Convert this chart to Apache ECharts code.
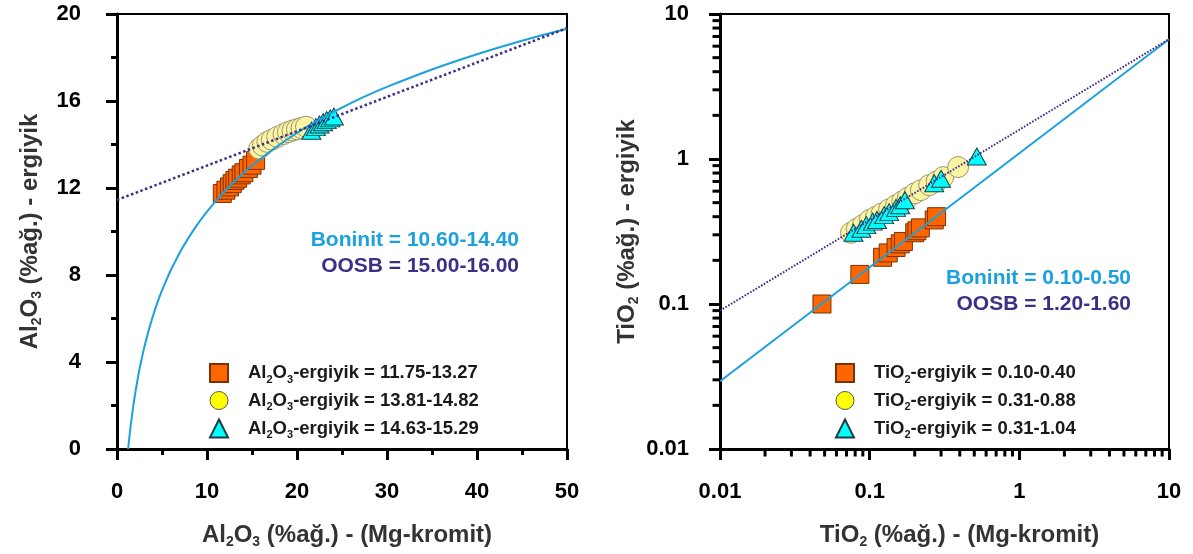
<!DOCTYPE html>
<html>
<head>
<meta charset="utf-8">
<script src="https://cdn.jsdelivr.net/npm/echarts@6/dist/echarts.min.js"></script>
<style>
  html, body { margin: 0; padding: 0; background: #fff; }
  #chart { width: 1193px; height: 554px; }
</style>
</head>
<body>
<div id="chart"></div>
<script>
// ---------- Al2O3 panel (linear axes) ----------
const alXMin = 0, alXMax = 50, alXStep = 10;
const alYMin = 0, alYMax = 20, alYStep = 4;

// points along the melt–spinel Al2O3 curve
const alCurveX = [1.24, 1.3, 1.4, 1.5, 1.6, 1.75, 1.9, 2.1, 2.3, 2.5, 2.75, 3, 3.5, 4, 4.5, 5, 5.5, 6, 7, 8, 9, 10, 11, 12, 13.5, 15, 17.5, 20, 22.5, 25, 27.5, 30, 35, 40, 45, 50];
const alCurveY = [0, 0.25, 0.64, 1.0, 1.33, 1.80, 2.23, 2.75, 3.23, 3.67, 4.16, 4.62, 5.42, 6.12, 6.74, 7.29, 7.78, 8.24, 9.05, 9.74, 10.36, 10.91, 11.41, 11.86, 12.48, 13.03, 13.83, 14.53, 15.15, 15.70, 16.20, 16.65, 17.45, 18.15, 18.77, 19.32];
// dotted trend line
const alTrendX = [0, 50];
const alTrendY = [11.45, 19.35];

const alSquareX = [11.7, 12.1, 12.5, 12.8, 13.1, 13.4, 13.8, 14.1, 14.6, 15.0, 15.4];
const alSquareY = [11.75, 11.9, 12.05, 12.2, 12.35, 12.45, 12.6, 12.7, 12.9, 13.05, 13.27];
const alCircleX = [15.8, 16.2, 16.7, 17.2, 17.8, 18.5, 19.0, 19.5, 20.0, 20.5, 21.0];
const alCircleY = [13.81, 13.95, 14.12, 14.22, 14.35, 14.48, 14.57, 14.64, 14.70, 14.76, 14.82];
const alTriX = [21.6, 22.1, 22.5, 22.9, 23.3, 23.7, 24.1];
const alTriY = [14.63, 14.8, 14.92, 15.02, 15.12, 15.2, 15.29];

const alRanges = ['11.75-13.27', '13.81-14.82', '14.63-15.29'];
const alBoninit = '10.60-14.40';
const alOOSB = '15.00-16.00';

// ---------- TiO2 panel (log axes) ----------
const tiMin = 0.01, tiMax = 10;
const tiMinorTicks = [0.02, 0.03, 0.04, 0.05, 0.06, 0.07, 0.08, 0.09,
                      0.2, 0.3, 0.4, 0.5, 0.6, 0.7, 0.8, 0.9,
                      2, 3, 4, 5, 6, 7, 8, 9];
const tiTickLabels = { '0.01': '0.01', '0.1': '0.1', '1': '1', '10': '10' };

const tiCurveX = [0.01, 10];
const tiCurveY = [0.0293, 6.7];
const tiTrendX = [0.01, 10];
const tiTrendY = [0.09, 6.7];

const tiSquareX = [0.048, 0.086, 0.122, 0.133, 0.15, 0.16, 0.168, 0.2, 0.207, 0.218, 0.27, 0.28];
const tiSquareY = [0.10, 0.16, 0.21, 0.225, 0.245, 0.26, 0.27, 0.31, 0.32, 0.335, 0.38, 0.40];
const tiCircleX = [0.075, 0.082, 0.09, 0.1, 0.11, 0.12, 0.135, 0.15, 0.165, 0.18, 0.2, 0.22, 0.25, 0.28, 0.31, 0.39];
const tiCircleY = [0.31, 0.33, 0.35, 0.38, 0.40, 0.42, 0.45, 0.48, 0.51, 0.54, 0.58, 0.61, 0.66, 0.70, 0.75, 0.88];
const tiTriX = [0.078, 0.088, 0.095, 0.105, 0.112, 0.125, 0.135, 0.15, 0.16, 0.172, 0.27, 0.30, 0.52];
const tiTriY = [0.31, 0.33, 0.35, 0.37, 0.38, 0.41, 0.43, 0.46, 0.48, 0.52, 0.68, 0.73, 1.04];

const tiRanges = ['0.10-0.40', '0.31-0.88', '0.31-1.04'];
const tiBoninit = '0.10-0.50';
const tiOOSB = '1.20-1.60';

// ---------- styling ----------
const FONT = "'Liberation Sans', Arial, Helvetica, sans-serif";
const BLUE = '#1CA0DF';
const PURPLE = '#3E2F86';
const zip = (xs, ys) => xs.map((x, i) => [x, ys[i]]);

const squareStyle = { color: '#FF6600', borderColor: '#7A3200', borderWidth: 1, opacity: 1 };
const circleStyle = { color: '#FAF5A5', borderColor: '#9C9470', borderWidth: 1, opacity: 1 };
const triStyle = { color: '#00FFFF', borderColor: '#1E3C46', borderWidth: 1, opacity: 1 };

const nameRich = {
  t: { fontFamily: FONT, fontSize: 24, fontWeight: 'bold', color: '#333', lineHeight: 28 },
  s: { fontFamily: FONT, fontSize: 14, fontWeight: 'bold', color: '#333', verticalAlign: 'bottom' }
};
const legendRich = {
  g: { width: 15 },
  t: { fontFamily: FONT, fontSize: 18.5, fontWeight: 'bold', color: '#1a1a1a', lineHeight: 24 },
  s: { fontFamily: FONT, fontSize: 11, fontWeight: 'bold', color: '#1a1a1a', verticalAlign: 'bottom' }
};

const axisLine = { show: true, onZero: false, lineStyle: { color: '#000', width: 3 } };
const axisTick = { show: true, length: 11, lineStyle: { color: '#000', width: 3 } };
const minorTick = { show: true, splitNumber: 2, length: 6, lineStyle: { color: '#000', width: 3 } };
const labelBase = { fontFamily: FONT, fontSize: 22, fontWeight: 'bold', color: '#000', showMinLabel: true, showMaxLabel: true };

const alLabel = (ox) => '{t|Al}{s|2}{t|O}{s|3}{t|' + ox + '}';
const tiLabel = (ox) => '{t|TiO}{s|2}{t|' + ox + '}';

const legendNames = {
  alSq: '{g| }' + alLabel('-ergiyik = ' + alRanges[0]),
  alCi: '{g| }' + alLabel('-ergiyik = ' + alRanges[1]),
  alTr: '{g| }' + alLabel('-ergiyik = ' + alRanges[2]),
  tiSq: '{g| }' + tiLabel('-ergiyik = ' + tiRanges[0]),
  tiCi: '{g| }' + tiLabel('-ergiyik = ' + tiRanges[1]),
  tiTr: '{g| }' + tiLabel('-ergiyik = ' + tiRanges[2])
};

// short outward minor ticks on the log axes, placed by the axis scale
function minorTickSeries(isX) {
  return {
    type: 'custom',
    xAxisIndex: 1, yAxisIndex: 1,
    silent: true, clip: false, z: 5,
    data: tiMinorTicks.map(v => isX ? [v, tiMin] : [tiMin, v]),
    renderItem: function (params, api) {
      const p = api.coord([api.value(0), api.value(1)]);
      const shape = isX
        ? { x1: p[0], y1: p[1], x2: p[0], y2: p[1] + 7.5 }
        : { x1: p[0] - 7.5, y1: p[1], x2: p[0], y2: p[1] };
      return { type: 'line', shape: shape, style: { stroke: '#000', lineWidth: 3 } };
    }
  };
}

function legendBlock(left, keys) {
  return {
    orient: 'vertical', left: left, top: 358, itemWidth: 18, itemHeight: 18, itemGap: 6,
    symbolKeepAspect: true,
    data: [
      { name: keys[0] },
      { name: keys[1], itemStyle: { color: '#FFFF00', borderColor: '#555', borderWidth: 1, opacity: 1 } },
      { name: keys[2] }
    ],
    formatter: n => legendNames[n],
    textStyle: { rich: legendRich },
    selectedMode: false
  };
}

const chart = echarts.init(document.getElementById('chart'), null, { renderer: 'canvas' });

chart.setOption({
  animation: false,
  backgroundColor: '#fff',
  grid: [
    { left: 117, top: 14, width: 450, height: 435, show: true, borderColor: '#000', borderWidth: 2, backgroundColor: 'transparent' },
    { left: 720, top: 14, width: 449, height: 435, show: true, borderColor: '#000', borderWidth: 2, backgroundColor: 'transparent' }
  ],
  xAxis: [
    {
      type: 'value', gridIndex: 0, min: alXMin, max: alXMax, interval: alXStep,
      axisLine: axisLine, axisTick: axisTick, minorTick: minorTick,
      splitLine: { show: false }, minorSplitLine: { show: false },
      axisLabel: Object.assign({ margin: 32 }, labelBase),
      name: alLabel(' (%ağ.) - (Mg-kromit)'), nameLocation: 'middle', nameGap: 72,
      nameTextStyle: { rich: nameRich, padding: [0, 0, 0, 10] }
    },
    {
      type: 'log', logBase: 10, gridIndex: 1, min: tiMin, max: tiMax,
      axisLine: axisLine, axisTick: axisTick,
      splitLine: { show: false },
      axisLabel: Object.assign({ margin: 32, formatter: v => tiTickLabels[String(+(+v).toPrecision(3))] || String(v) }, labelBase),
      name: tiLabel(' (%ağ.) - (Mg-kromit)'), nameLocation: 'middle', nameGap: 72,
      nameTextStyle: { rich: nameRich, padding: [0, 0, 0, 30] }
    }
  ],
  yAxis: [
    {
      type: 'value', gridIndex: 0, min: alYMin, max: alYMax, interval: alYStep,
      axisLine: axisLine, axisTick: axisTick, minorTick: minorTick,
      splitLine: { show: false }, minorSplitLine: { show: false },
      axisLabel: Object.assign({ margin: 36 }, labelBase),
      name: alLabel(' (%ağ.) - ergiyik'), nameLocation: 'middle', nameRotate: 90, nameGap: 73,
      nameTextStyle: { rich: nameRich }
    },
    {
      type: 'log', logBase: 10, gridIndex: 1, min: tiMin, max: tiMax,
      axisLine: axisLine, axisTick: axisTick,
      splitLine: { show: false },
      axisLabel: Object.assign({ margin: 31, formatter: v => tiTickLabels[String(+(+v).toPrecision(3))] || String(v) }, labelBase),
      name: tiLabel(' (%ağ.) - ergiyik'), nameLocation: 'middle', nameRotate: 90, nameGap: 79,
      nameTextStyle: { rich: nameRich }
    }
  ],
  legend: [
    legendBlock(204, ['alSq', 'alCi', 'alTr']),
    legendBlock(830, ['tiSq', 'tiCi', 'tiTr'])
  ],
  graphic: [
    { type: 'text', x: 519, y: 240, style: { text: 'Boninit = ' + alBoninit, fill: BLUE, font: 'bold 21px ' + FONT, align: 'right', verticalAlign: 'middle' } },
    { type: 'text', x: 519, y: 266, style: { text: 'OOSB = ' + alOOSB, fill: PURPLE, font: 'bold 21px ' + FONT, align: 'right', verticalAlign: 'middle' } },
    { type: 'text', x: 1131, y: 278, style: { text: 'Boninit = ' + tiBoninit, fill: BLUE, font: 'bold 21px ' + FONT, align: 'right', verticalAlign: 'middle' } },
    { type: 'text', x: 1131, y: 304, style: { text: 'OOSB = ' + tiOOSB, fill: PURPLE, font: 'bold 21px ' + FONT, align: 'right', verticalAlign: 'middle' } }
  ],
  series: [
    // Al2O3 panel
    { name: 'alCurve', type: 'line', xAxisIndex: 0, yAxisIndex: 0, data: zip(alCurveX, alCurveY),
      showSymbol: false, smooth: 0.3, silent: true,
      lineStyle: { color: BLUE, width: 2 } },
    { name: 'alTrend', type: 'line', xAxisIndex: 0, yAxisIndex: 0, data: zip(alTrendX, alTrendY),
      showSymbol: false, silent: true,
      lineStyle: { color: PURPLE, width: 2.5, type: [2.5, 2.5] } },
    { name: 'alSq', type: 'scatter', xAxisIndex: 0, yAxisIndex: 0, data: zip(alSquareX, alSquareY),
      symbol: 'rect', symbolSize: 18, itemStyle: squareStyle },
    { name: 'alCi', type: 'scatter', xAxisIndex: 0, yAxisIndex: 0, data: zip(alCircleX, alCircleY),
      symbol: 'circle', symbolSize: 21, itemStyle: circleStyle },
    { name: 'alTr', type: 'scatter', xAxisIndex: 0, yAxisIndex: 0, data: zip(alTriX, alTriY),
      symbol: 'triangle', symbolSize: [19, 17], itemStyle: triStyle },

    // TiO2 panel
    { name: 'tiCurve', type: 'line', xAxisIndex: 1, yAxisIndex: 1, data: zip(tiCurveX, tiCurveY),
      showSymbol: false, silent: true,
      lineStyle: { color: BLUE, width: 2 } },
    { name: 'tiTrend', type: 'line', xAxisIndex: 1, yAxisIndex: 1, data: zip(tiTrendX, tiTrendY),
      showSymbol: false, silent: true,
      lineStyle: { color: PURPLE, width: 2, type: [1.6, 1.6] } },
    { name: 'tiSq', type: 'scatter', xAxisIndex: 1, yAxisIndex: 1, data: zip(tiSquareX, tiSquareY),
      symbol: 'rect', symbolSize: 18, itemStyle: squareStyle },
    { name: 'tiCi', type: 'scatter', xAxisIndex: 1, yAxisIndex: 1, data: zip(tiCircleX, tiCircleY),
      symbol: 'circle', symbolSize: 21, itemStyle: circleStyle },
    { name: 'tiTr', type: 'scatter', xAxisIndex: 1, yAxisIndex: 1, data: zip(tiTriX, tiTriY),
      symbol: 'triangle', symbolSize: [19, 17], itemStyle: triStyle },

    minorTickSeries(true),
    minorTickSeries(false)
  ]
});
</script>
</body>
</html>
